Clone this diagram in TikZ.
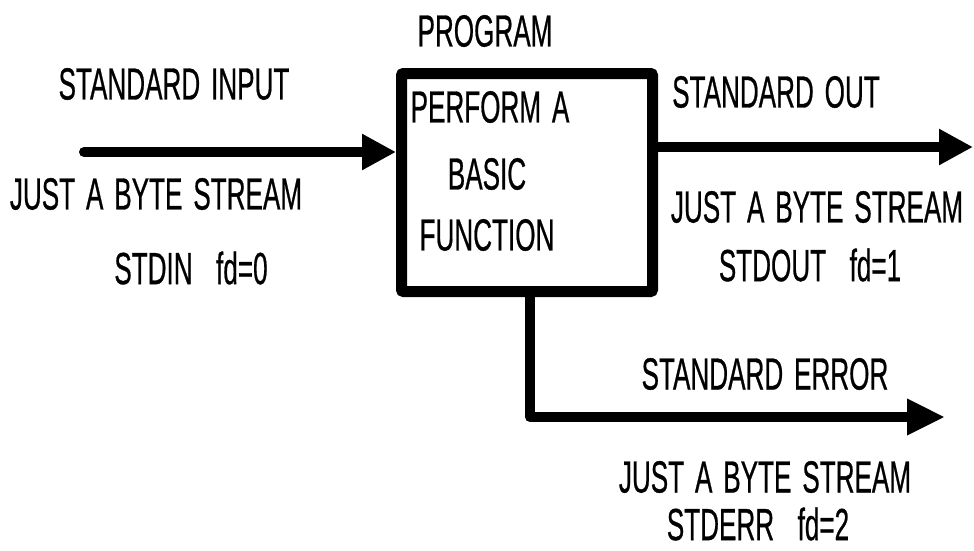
\documentclass[tikz,border=0pt]{standalone}
\usepackage{fontspec}
\setmainfont{Liberation Sans}[WordSpace=1.5, FakeBold=0.8]
\usetikzlibrary{arrows.meta}
\newcommand\cadt[1]{\scalebox{0.58}[1]{#1}}
\begin{document}
\begin{tikzpicture}[x=1pt,y=-1pt,
  lbl/.style={font=\fontsize{45}{45}\selectfont, inner sep=0pt, anchor=center},
  conn/.style={line width=10pt, line cap=round, line join=round},
  tip/.style={-{Triangle[length=34pt,width=34pt]}},
  progbox/.style={draw, line width=11pt, rounded corners=2pt, minimum width=251pt, minimum height=218pt, inner sep=0pt}]
\useasboundingbox (0,0) rectangle (974,550);
\node[progbox] (box) at (527,182.5) {};
% coordinates
\coordinate (inS) at (84,152);
\coordinate (outE) at (973,147);
\coordinate (errC) at (530,417);
\coordinate (errE) at (945,417);
% connectors
\draw[conn,tip] (inS) -- (inS -| box.west);
\draw[conn,tip,line cap=butt] (outE -| box.east) -- (outE);
\draw[conn,-{Triangle[length=38pt,width=34pt]}] (errC |- box.south) -- (errC) -- (errE);
% labels
\node[lbl] (tprog) at (485,31) {\cadt{PROGRAM}};
\node[lbl] (tsin) at (174,84) {\cadt{STANDARD INPUT}};
\node[lbl] (tjin) at (156,194) {\cadt{JUST A BYTE STREAM}};
\node[lbl] (tfd0) at (191,268) {\cadt{STDIN\hspace{0.9em}fd=0}};
\node[lbl] (tperf) at (490,107) {\cadt{PERFORM A}};
\node[lbl] (tbasic) at (487,174) {\cadt{BASIC}};
\node[lbl] (tfunc) at (487,235) {\cadt{FUNCTION}};
\node[lbl] (tsout) at (776,92) {\cadt{STANDARD OUT}};
\node[lbl] (tjout) at (817,207) {\cadt{JUST A BYTE STREAM}};
\node[lbl] (tfd1) at (810,265) {\cadt{STDOUT\hspace{0.9em}fd=1}};
\node[lbl] (tserr) at (765,374) {\cadt{STANDARD ERROR}};
\node[lbl] (tjerr) at (765,477) {\cadt{JUST A BYTE STREAM}};
\node[lbl] (tfd2) at (758,524) {\cadt{STDERR\hspace{0.9em}fd=2}};
\end{tikzpicture}
\end{document}
